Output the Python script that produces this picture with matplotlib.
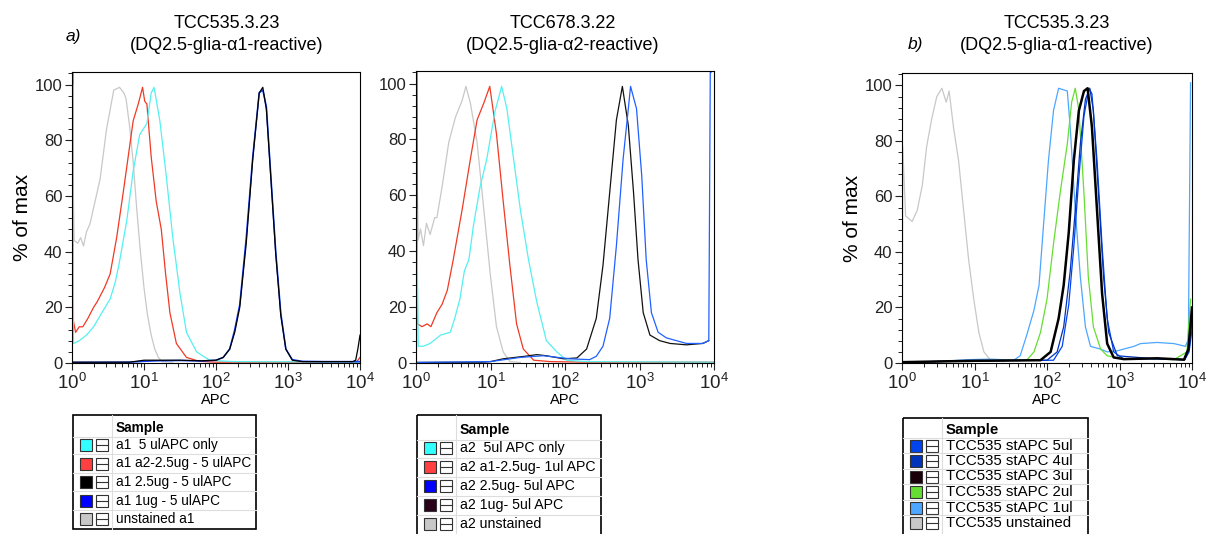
import numpy as np
import matplotlib
matplotlib.use("Agg")
import matplotlib.pyplot as plt
from matplotlib.ticker import MultipleLocator, LogLocator, NullFormatter
from matplotlib.patches import Rectangle

plt.rcParams['font.family'] = ['Liberation Sans', 'DejaVu Sans']
plt.rcParams['mathtext.fontset'] = 'custom'
plt.rcParams['mathtext.rm'] = 'Liberation Sans'

# ---- data: log10(APC) positions and % of max values ----
# panel a) left: TCC535.3.23
p1_gray_lx = [0.005, 0.01, 0.03, 0.08, 0.12, 0.16, 0.2, 0.25, 0.32, 0.39, 0.48, 0.58, 0.66, 0.72, 0.75,
              0.8, 0.85, 0.9, 0.95, 1.0, 1.05, 1.1, 1.15, 1.2, 1.25, 1.4]
p1_gray_y = [0, 73, 44, 43, 45, 42, 47, 50, 58, 66, 84, 98, 99, 97, 95,
             85, 72, 55, 40, 27, 17, 10, 5, 2, 0.5, 0.3]
p1_red_lx = [0.005, 0.01, 0.02, 0.05, 0.1, 0.15, 0.22, 0.3, 0.35, 0.45, 0.53, 0.62, 0.71, 0.78, 0.85,
             0.92, 0.98, 1.01, 1.04, 1.1, 1.17, 1.24, 1.3, 1.36, 1.45, 1.59, 1.77, 2.0, 3.0, 3.95, 4.0]
p1_red_y = [0, 105, 15, 11, 13, 13, 16, 20, 22, 27, 32, 45, 61, 74, 87,
            93, 99, 94, 93, 74, 58, 48, 32, 18, 7, 2, 0.6, 0.3, 0.3, 0.3, 2]
p1_cyan_lx = [0.005, 0.01, 0.02, 0.1, 0.2, 0.3, 0.39, 0.46, 0.53, 0.6, 0.65, 0.76, 0.85, 0.94, 1.04,
              1.1, 1.14, 1.22, 1.31, 1.4, 1.5, 1.59, 1.73, 1.91, 2.23, 4.0]
p1_cyan_y = [0, 100, 7, 8, 10, 13, 17, 20, 23, 29, 35, 51, 69, 82, 86,
             97, 99, 87, 67, 45, 25, 11, 4, 1, 0.5, 0.3]
p1_high_lx = [0.0, 0.8, 1.0, 1.2, 1.5, 1.8, 2.0, 2.1, 2.19, 2.26, 2.33, 2.42, 2.51, 2.6, 2.65,
              2.7, 2.76, 2.83, 2.9, 2.97, 3.06, 3.2, 3.5, 3.9, 3.94, 3.97, 4.0]
p1_black_y = [0.3, 0.3, 1, 1, 1, 0.8, 1, 2, 5, 11, 20, 43, 73, 97, 99,
              91, 67, 39, 17, 5, 1, 0.5, 0.5, 0.5, 1, 5, 10]
p1_blue_y = [0.2, 0.3, 0.6, 0.8, 0.9, 0.7, 1, 2, 5, 12, 21, 45, 74, 97, 98,
             92, 68, 40, 18, 5, 1.2, 0.6, 0.5, 0.5, 0.5, 0.5, 0.5]

# panel a) right: TCC678.3.22
p2_gray_lx = [0.005, 0.01, 0.03, 0.06, 0.1, 0.14, 0.19, 0.25, 0.28, 0.35, 0.44, 0.53, 0.62, 0.67, 0.73,
              0.82, 0.91, 1.0, 1.08, 1.17, 1.26, 1.4]
p2_gray_y = [0, 75, 44, 48, 42, 50, 46, 52, 52, 63, 79, 88, 94, 99, 93,
             79, 55, 31, 13, 4, 0.5, 0.2]
p2_red_lx = [0.005, 0.01, 0.02, 0.08, 0.15, 0.2, 0.28, 0.35, 0.42, 0.5, 0.62, 0.73, 0.82, 0.91, 0.99,
             1.08, 1.17, 1.26, 1.35, 1.44, 1.58, 1.8, 2.3, 4.0]
p2_red_y = [0, 105, 14, 13, 14, 13, 18, 21, 26, 37, 55, 73, 87, 93, 99,
            82, 58, 35, 14, 5, 1, 0.5, 0.3, 0.3]
p2_cyan_lx = [0.005, 0.01, 0.03, 0.1, 0.19, 0.33, 0.46, 0.52, 0.59, 0.65, 0.71, 0.77, 0.86, 0.95, 1.06,
              1.15, 1.22, 1.31, 1.4, 1.51, 1.62, 1.75, 1.89, 2.02, 2.29, 4.0]
p2_cyan_y = [0, 55, 6, 6, 7, 10, 11, 16, 23, 33, 37, 49, 63, 73, 90,
             99, 91, 73, 55, 37, 22, 8, 4, 1, 0.5, 0.3]
p2_dark_lx = [0.0, 0.9, 1.0, 1.17, 1.49, 1.62, 1.75, 1.98, 2.16, 2.29, 2.42, 2.51, 2.6, 2.69, 2.77,
              2.85, 2.92, 2.98, 3.05, 3.14, 3.27, 3.41, 3.63, 3.85, 3.93]
p2_dark_y = [0.2, 0.3, 0.5, 1.5, 2.5, 3, 2.6, 1.5, 1.8, 5, 16, 35, 61, 87, 99,
             85, 61, 37, 18, 10, 8, 7, 6.5, 7, 8]
p2_blue_lx = [0.0, 1.0, 1.4, 1.71, 2.07, 2.33, 2.42, 2.51, 2.6, 2.69, 2.78, 2.85, 2.88, 2.96, 3.03,
              3.09, 3.16, 3.25, 3.36, 3.63, 3.85, 3.93, 3.95, 3.96]
p2_blue_y = [0.2, 0.5, 2, 2.6, 1.5, 1.2, 2.4, 6, 16, 42, 73, 91, 99, 91, 67,
             37, 18, 11, 9, 7, 7, 8, 104, 104]

# panel b): TCC535.3.23 titration
p3_gray_lx = [0.005, 0.01, 0.05, 0.14, 0.21, 0.28, 0.34, 0.41, 0.48, 0.55, 0.61, 0.65, 0.71, 0.78, 0.85,
              0.92, 0.99, 1.06, 1.13, 1.22, 1.4]
p3_gray_y = [0, 78, 53, 51, 55, 64, 78, 88, 96, 99, 94, 98, 85, 73, 55,
             37, 23, 11, 4, 1, 0.5]
p3_1ul_lx = [0.0, 0.5, 0.9, 1.22, 1.54, 1.63, 1.72, 1.82, 1.89, 1.95, 2.02, 2.09, 2.16, 2.28, 2.32,
             2.39, 2.46, 2.53, 2.6, 2.74, 2.83, 2.97, 3.2, 3.29, 3.52, 3.75, 3.91, 3.95, 3.98]
p3_1ul_y = [0.3, 0.5, 1.2, 1.4, 1, 2.6, 10, 19, 28, 49, 73, 91, 99, 98, 85,
            55, 31, 13, 6, 5, 4, 4.4, 6, 7, 7.4, 7, 6, 8.6, 101]
p3_2ul_lx = [0.0, 1.0, 1.72, 1.82, 1.91, 2.0, 2.09, 2.18, 2.28, 2.34, 2.39, 2.44, 2.51, 2.57, 2.64,
             2.74, 2.83, 3.06, 3.29, 3.75, 3.93, 3.98]
p3_2ul_y = [0.3, 0.8, 1, 4, 11, 23, 43, 61, 79, 94, 99, 91, 61, 31, 13,
            5, 2.6, 1.4, 1.7, 1.2, 4, 23]
p3_3ul_lx = [0.0, 1.0, 1.91, 2.05, 2.16, 2.23, 2.3, 2.37, 2.44, 2.51, 2.56, 2.62, 2.69, 2.76, 2.83,
             2.92, 3.06, 3.52, 3.89, 3.95, 4.0]
p3_3ul_y = [0.3, 0.8, 1, 4, 16, 28, 47, 73, 91, 98, 99, 85, 55, 25, 7,
            2, 1.4, 1.7, 1.2, 5, 20]
p3_4ul_lx = [0.0, 1.0, 2.0, 2.14, 2.23, 2.32, 2.39, 2.46, 2.53, 2.59, 2.64, 2.71, 2.78, 2.85, 2.97,
             3.5, 3.9, 3.96, 4.0]
p3_4ul_y = [0.3, 0.8, 1, 4, 13, 33, 55, 79, 95, 99, 91, 61, 31, 11, 2.6,
            1.5, 1.2, 5, 15]
p3_5ul_lx = [0.0, 1.0, 2.09, 2.21, 2.3, 2.37, 2.44, 2.51, 2.58, 2.62, 2.69, 2.76, 2.83, 2.92, 3.06,
             3.5, 3.9, 3.96, 4.0]
p3_5ul_y = [0.3, 0.8, 1, 6, 21, 42, 67, 89, 99, 97, 73, 42, 16, 4, 1.4,
            1.5, 1.2, 4, 12]

# legends
leg1_labels = ["a1  5 ulAPC only", "a1 a2-2.5ug - 5 ulAPC", "a1 2.5ug - 5 ulAPC",
               "a1 1ug - 5 ulAPC", "unstained a1"]
leg1_colors = ["#33ffff", "#ff4040", "#000000", "#0000ff", "#c8c8c8"]
leg2_labels = ["a2  5ul APC only", "a2 a1-2.5ug- 1ul APC", "a2 2.5ug- 5ul APC",
               "a2 1ug- 5ul APC", "a2 unstained"]
leg2_colors = ["#33ffff", "#ff4040", "#0000ff", "#2a0018", "#c8c8c8"]
leg3_labels = ["TCC535 stAPC 5ul", "TCC535 stAPC 4ul", "TCC535 stAPC 3ul",
               "TCC535 stAPC 2ul", "TCC535 stAPC 1ul", "TCC535 unstained"]
leg3_colors = ["#0044ee", "#0033bb", "#1a0008", "#66dd33", "#4da6ff", "#c8c8c8"]

W, H = 1211, 534
fig = plt.figure(figsize=(W / 100, H / 100), dpi=100)


def px_axes(x0, y0, x1, y1):
    # pixel box (top-left origin) -> figure fraction
    return [x0 / W, 1 - y1 / H, (x1 - x0) / W, (y1 - y0) / H]


def setup(ax, ylabel=True):
    ax.set_xscale('log')
    ax.set_xlim(1, 1e4)
    ax.set_ylim(0, 104.5)
    ax.yaxis.set_major_locator(MultipleLocator(20))
    ax.yaxis.set_minor_locator(MultipleLocator(4))
    ax.xaxis.set_major_locator(LogLocator(base=10, numticks=10))
    ax.xaxis.set_minor_locator(LogLocator(base=10, subs=np.arange(2, 10), numticks=10))
    ax.xaxis.set_minor_formatter(NullFormatter())
    ax.tick_params(which='major', length=5, width=0.8, colors='#222222', pad=2)
    ax.tick_params(which='minor', length=3, width=0.6)
    ax.tick_params(axis='y', labelsize=12)
    ax.tick_params(axis='x', labelsize=13.5)
    for s in ax.spines.values():
        s.set_linewidth(0.8)
    ax.set_xlabel('APC', fontsize=10.5, labelpad=0)
    if ylabel:
        ax.set_ylabel('% of max', fontsize=15, labelpad=2)


def curve(ax, lx, y, color, lw=0.9):
    ax.plot(10 ** np.array(lx), y, color=color, lw=lw, clip_on=True)


ax1 = fig.add_axes(px_axes(72, 72, 360, 363))
curve(ax1, p1_gray_lx, p1_gray_y, '#c8c8c8')
curve(ax1, p1_red_lx, p1_red_y, '#f03a24')
curve(ax1, p1_cyan_lx, p1_cyan_y, '#55f0f0')
curve(ax1, p1_high_lx, p1_blue_y, '#1040ff', lw=1.1)
curve(ax1, p1_high_lx, p1_black_y, '#000000')
setup(ax1)

ax2 = fig.add_axes(px_axes(416, 71, 714, 363))
curve(ax2, p2_gray_lx, p2_gray_y, '#c8c8c8')
curve(ax2, p2_red_lx, p2_red_y, '#f03a24')
curve(ax2, p2_cyan_lx, p2_cyan_y, '#55f0f0')
curve(ax2, p2_dark_lx, p2_dark_y, '#111111')
curve(ax2, p2_blue_lx, p2_blue_y, '#2060ff')
setup(ax2, ylabel=False)

ax3 = fig.add_axes(px_axes(902, 73, 1192, 363))
curve(ax3, p3_gray_lx, p3_gray_y, '#c8c8c8')
curve(ax3, p3_1ul_lx, p3_1ul_y, '#4da6ff')
curve(ax3, p3_2ul_lx, p3_2ul_y, '#66dd33')
curve(ax3, p3_5ul_lx, p3_5ul_y, '#0044ee')
curve(ax3, p3_4ul_lx, p3_4ul_y, '#0033bb')
curve(ax3, p3_3ul_lx, p3_3ul_y, '#000000', lw=1.8)
setup(ax3)

# overlay in pixel coordinates for titles and legend tables
ov = fig.add_axes([0, 0, 1, 1])
ov.set_xlim(0, W)
ov.set_ylim(H, 0)
ov.axis('off')
ov.patch.set_alpha(0)

for cx, l1, l2 in [(227, "TCC535.3.23", "(DQ2.5-glia-\u03b11-reactive)"),
                   (563, "TCC678.3.22", "(DQ2.5-glia-\u03b12-reactive)"),
                   (1057, "TCC535.3.23", "(DQ2.5-glia-\u03b11-reactive)")]:
    ov.text(cx, 23, l1, ha='center', va='center', fontsize=13)
    ov.text(cx, 45, l2, ha='center', va='center', fontsize=13)
ov.text(66, 37, "a)", style='italic', fontsize=12.5, va='center')
ov.text(908, 44, "b)", style='italic', fontsize=12.5, va='center')


def draw_legend(x0, x1, top, bottom, header_y, row_ys, labels, colors, fs):
    ov.add_patch(Rectangle((x0, top), x1 - x0, bottom - top, fill=False,
                           ec='black', lw=1.2, clip_on=False))
    div = x0 + 39
    ov.plot([div, div], [top, bottom], color='#dddddd', lw=0.8)
    step = row_ys[1] - row_ys[0]
    for yy in [header_y] + list(row_ys[:-1]):
        ov.plot([x0, x1], [yy + step / 2] * 2, color='#dddddd', lw=0.8)
    ov.text(div + 4, header_y, "Sample", fontweight='bold', fontsize=fs, va='center')
    for yy, lab, col in zip(row_ys, labels, colors):
        sq = 12
        ov.add_patch(Rectangle((x0 + 7, yy - sq / 2), sq, sq, fc=col, ec='#333333', lw=0.8))
        ov.add_patch(Rectangle((x0 + 23, yy - sq / 2), sq, sq, fc='white', ec='#333333', lw=0.8))
        ov.plot([x0 + 23, x0 + 23 + sq], [yy, yy], color='#333333', lw=0.8)
        ov.text(div + 4, yy, lab, fontsize=fs, va='center')


draw_legend(73, 256, 415, 529, 428, [445, 463.5, 482, 500.5, 519], leg1_labels, leg1_colors, 9.8)
draw_legend(417, 601, 415, 545, 430, [448, 467, 486, 505, 524], leg2_labels, leg2_colors, 10.2)
draw_legend(903, 1088, 418, 545, 430, [445.5, 461, 476.5, 492, 507.5, 523], leg3_labels, leg3_colors, 10.8)

fig.savefig("out.png", dpi=100)
